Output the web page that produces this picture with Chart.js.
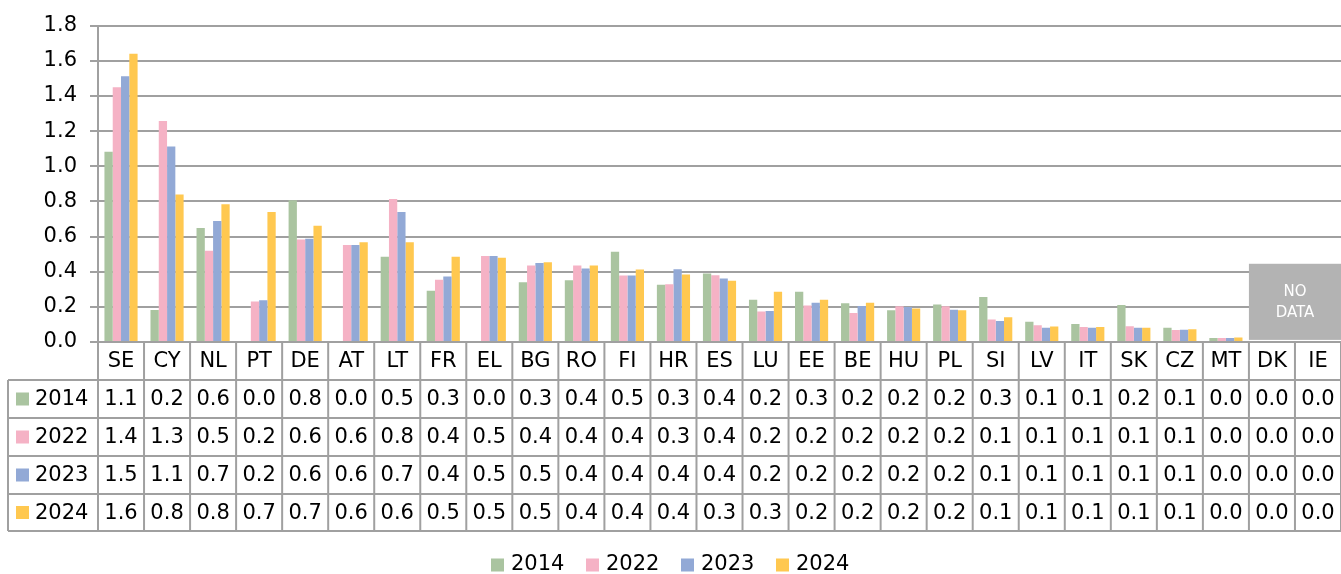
<!DOCTYPE html>
<html>
<head>
<meta charset="utf-8">
<script src="https://cdn.jsdelivr.net/npm/chart.js@4"></script>
<style>
  html, body { margin: 0; padding: 0; background: #fff; }
  #wrap { width: 1341px; height: 574px; }
</style>
</head>
<body>
<div id="wrap"><canvas id="chart" width="1341" height="574"></canvas></div>
<script>
const categories = ['SE', 'CY', 'NL', 'PT', 'DE', 'AT', 'LT', 'FR', 'EL', 'BG', 'RO', 'FI', 'HR', 'ES',
    'LU', 'EE', 'BE', 'HU', 'PL', 'SI', 'LV', 'IT', 'SK', 'CZ', 'MT', 'DK', 'IE'];
const years = ['2014', '2022', '2023', '2024'];

const values2014 = [1.083, 0.182, 0.649, 0, 0.807, 0, 0.485, 0.292, 0, 0.340, 0.352, 0.514, 0.325, 0.389,
    0.241, 0.286, 0.220, 0.181, 0.214, 0.256, 0.115, 0.102, 0.211, 0.081, 0.023, 0, 0];
const values2022 = [1.449, 1.257, 0.519, 0.230, 0.583, 0.552, 0.814, 0.354, 0.489, 0.435, 0.435, 0.378, 0.329, 0.380,
    0.173, 0.207, 0.165, 0.203, 0.203, 0.128, 0.096, 0.085, 0.090, 0.068, 0.023, 0, 0];
const values2023 = [1.512, 1.112, 0.688, 0.237, 0.587, 0.552, 0.739, 0.373, 0.489, 0.450, 0.418, 0.378, 0.414, 0.361,
    0.177, 0.224, 0.205, 0.199, 0.184, 0.120, 0.081, 0.081, 0.081, 0.070, 0.023, 0, 0];
const values2024 = [1.640, 0.839, 0.784, 0.739, 0.662, 0.568, 0.568, 0.485, 0.480, 0.453, 0.435, 0.412, 0.384, 0.348,
    0.286, 0.241, 0.224, 0.190, 0.181, 0.141, 0.088, 0.085, 0.081, 0.073, 0.026, 0, 0];

const yTicks = [0, 0.2, 0.4, 0.6, 0.8, 1.0, 1.2, 1.4, 1.6, 1.8];
const noDataCategories = ['DK', 'IE'];

const seriesValues = [values2014, values2022, values2023, values2024];
const colors = ['#aac4a0', '#f5b2c5', '#92a9d6', '#ffc850'];
const lineGray = '#a0a0a0';
const fontFamily = '"DejaVu Sans", Verdana, sans-serif';

// table under the plot, legend below it, "no data" box
const tablePlugin = {
    id: 'dataTable',
    afterDraw(chart) {
        const ctx = chart.ctx;
        const xs = chart.scales.x;
        const ys = chart.scales.y;
        const area = chart.chartArea;
        const half = (xs.getPixelForValue(1) - xs.getPixelForValue(0)) / 2;
        const rowTops = [area.bottom, area.bottom + 38, area.bottom + 76, area.bottom + 114, area.bottom + 152, area.bottom + 189];
        const tableLeft = 8;

        ctx.save();

        // no data box
        const firstNd = categories.indexOf(noDataCategories[0]);
        const boxL = xs.getPixelForValue(firstNd) - half;
        const boxT = ys.getPixelForValue(0.445);
        const boxB = ys.getPixelForValue(0.012);
        ctx.fillStyle = '#b3b3b3';
        ctx.fillRect(boxL, boxT, area.right - boxL, boxB - boxT);
        ctx.fillStyle = '#ffffff';
        ctx.font = '15px ' + fontFamily;
        ctx.textAlign = 'center';
        ctx.textBaseline = 'middle';
        const boxC = (boxL + area.right) / 2;
        ctx.fillText('NO', boxC, boxT + 28);
        ctx.fillText('DATA', boxC, boxT + 49);

        // grid lines of the table
        ctx.strokeStyle = lineGray;
        ctx.lineWidth = 2;
        ctx.beginPath();
        ctx.moveTo(area.left, rowTops[0]);
        ctx.lineTo(area.right, rowTops[0]);
        for (let r = 1; r < rowTops.length; r++) {
            ctx.moveTo(tableLeft, rowTops[r]);
            ctx.lineTo(area.right, rowTops[r]);
        }
        ctx.moveTo(tableLeft, rowTops[1]);
        ctx.lineTo(tableLeft, rowTops[5]);
        for (let i = 0; i <= categories.length; i++) {
            const x = xs.getPixelForValue(i) - half;
            ctx.moveTo(x, rowTops[0]);
            ctx.lineTo(x, rowTops[5]);
        }
        ctx.stroke();

        // texts
        ctx.fillStyle = '#000000';
        ctx.font = '21px ' + fontFamily;
        ctx.textAlign = 'center';
        ctx.textBaseline = 'middle';
        categories.forEach((c, i) => {
            const x = xs.getPixelForValue(i);
            ctx.fillText(c, x, (rowTops[0] + rowTops[1]) / 2 + 1);
            seriesValues.forEach((vals, s) => {
                ctx.fillText(vals[i].toFixed(1), x, (rowTops[s + 1] + rowTops[s + 2]) / 2 + 1);
            });
        });
        ctx.textAlign = 'left';
        years.forEach((y, s) => {
            const cy = (rowTops[s + 1] + rowTops[s + 2]) / 2;
            ctx.fillStyle = colors[s];
            ctx.fillRect(16, cy - 6.5, 13, 13);
            ctx.fillStyle = '#000000';
            ctx.fillText(y, 35, cy + 1);
        });

        // legend
        const legY = 565;
        let lx = 491;
        years.forEach((y, s) => {
            ctx.fillStyle = colors[s];
            ctx.fillRect(lx, legY - 6.5, 13, 13);
            ctx.fillStyle = '#000000';
            ctx.fillText(y, lx + 20, legY);
            lx += 95;
        });

        ctx.restore();
    }
};

const ctx = document.getElementById('chart').getContext('2d');
new Chart(ctx, {
    type: 'bar',
    data: {
        labels: categories,
        datasets: years.map((y, s) => ({
            label: y,
            data: seriesValues[s],
            backgroundColor: colors[s],
            borderWidth: 0,
            categoryPercentage: 0.72,
            barPercentage: 1.0
        }))
    },
    options: {
        responsive: false,
        animation: false,
        devicePixelRatio: 1,
        layout: { padding: { top: 23, right: 0, bottom: 232, left: 0 } },
        plugins: {
            legend: { display: false },
            tooltip: { enabled: false }
        },
        scales: {
            x: {
                display: false,
                grid: { display: false }
            },
            y: {
                min: 0,
                max: 1.8,
                afterFit(scale) { scale.width = 98; },
                afterBuildTicks(scale) { scale.ticks = yTicks.map(v => ({ value: v })); },
                ticks: {
                    callback: v => Number(v).toFixed(1),
                    color: '#000000',
                    font: { family: fontFamily, size: 21 },
                    padding: 13
                },
                grid: {
                    color: lineGray,
                    lineWidth: 2,
                    tickLength: 8,
                    drawTicks: true
                },
                border: { display: true, color: lineGray, width: 2 }
            }
        }
    },
    plugins: [tablePlugin]
});
</script>
</body>
</html>
